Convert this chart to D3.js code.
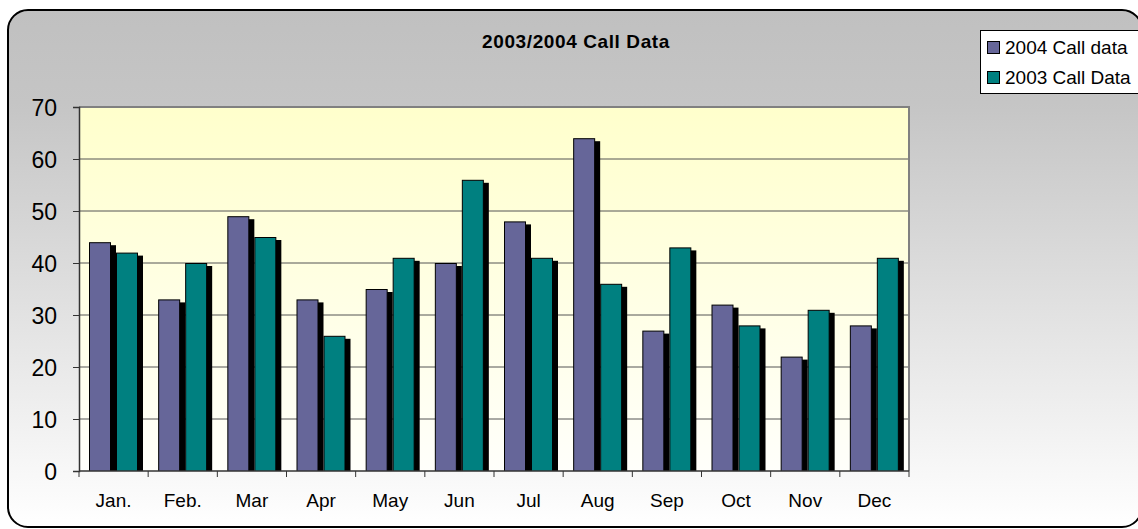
<!DOCTYPE html>
<html>
<head>
<meta charset="utf-8">
<script src="https://cdn.jsdelivr.net/npm/d3@7"></script>
<style>
  body { margin: 0; background: #fff; }
  svg text { font-family: "Liberation Sans", Arial, sans-serif; fill: #000; }
</style>
</head>
<body>
<div id="chartDiv"></div>
<script>
var months = ["Jan.", "Feb.", "Mar", "Apr", "May", "Jun", "Jul", "Aug", "Sep", "Oct", "Nov", "Dec"];
var seriesNames = ["2004 Call data", "2003 Call Data"];
var calls2004 = [44, 33, 49, 33, 35, 40, 48, 64, 27, 32, 22, 28];
var calls2003 = [42, 40, 45, 26, 41, 56, 41, 36, 43, 28, 31, 41];
var yTicks = [0, 10, 20, 30, 40, 50, 60, 70];
var colors = ["#666699", "#008080"];

var swidth = 1138, sheight = 529;
var margin = {top: 107, right: 229, bottom: 58, left: 79};
var width = swidth - margin.left - margin.right,
    height = sheight - margin.top - margin.bottom;

var svg = d3.select("#chartDiv").append("svg")
    .attr("width", swidth)
    .attr("height", sheight);

var defs = svg.append("defs");
var bg = defs.append("linearGradient").attr("id", "bgGrad")
    .attr("x1", 0).attr("y1", 0).attr("x2", 0).attr("y2", 1);
bg.append("stop").attr("offset", "0").attr("stop-color", "#c0c0c0");
bg.append("stop").attr("offset", "0.18").attr("stop-color", "#c5c5c5");
bg.append("stop").attr("offset", "1").attr("stop-color", "#ffffff");
var pg = defs.append("linearGradient").attr("id", "plotGrad")
    .attr("x1", 0).attr("y1", 0).attr("x2", 0).attr("y2", 1);
pg.append("stop").attr("offset", "0").attr("stop-color", "#ffffcc");
pg.append("stop").attr("offset", "1").attr("stop-color", "#fffffb");
defs.append("clipPath").attr("id", "plotClip")
    .append("rect").attr("x", 0).attr("y", -10).attr("width", width + 10).attr("height", height + 10);

// chart area
svg.append("rect")
    .attr("x", 8).attr("y", 10)
    .attr("width", 1134).attr("height", 517)
    .attr("rx", 20).attr("ry", 20)
    .attr("fill", "url(#bgGrad)")
    .attr("stroke", "#000")
    .attr("stroke-width", 2);

svg.append("text")
    .attr("x", 576).attr("y", 48)
    .attr("text-anchor", "middle")
    .style("font-size", "19px")
    .style("font-weight", "bold")
    .style("letter-spacing", "0.6px")
    .text("2003/2004 Call Data");

var g = svg.append("g")
    .attr("transform", "translate(" + margin.left + "," + margin.top + ")");

var x0 = d3.scaleBand().domain(months).range([0, width]).padding(0);
var x1 = d3.scaleBand().domain(seriesNames).range([10, 64]).padding(0);
var y = d3.scaleLinear().domain([0, 70]).range([height, 0]);
var barW = 22;

g.append("rect")
    .attr("width", width).attr("height", height)
    .attr("fill", "url(#plotGrad)");

// gridlines
g.append("g").selectAll("line")
    .data(yTicks.slice(1, -1))
    .enter().append("line")
    .attr("x1", 0).attr("x2", width)
    .attr("y1", function(d) { return y(d); })
    .attr("y2", function(d) { return y(d); })
    .attr("stroke", "#555")
    .attr("stroke-width", 1);

// plot area border (top and right)
g.append("path")
    .attr("d", "M0,0H" + width + "V" + height)
    .attr("fill", "none")
    .attr("stroke", "#808080")
    .attr("stroke-width", 2);

var data = months.map(function(m, i) {
    return {month: m, values: [calls2004[i], calls2003[i]]};
});

var bars = g.append("g").attr("clip-path", "url(#plotClip)");
var grp = bars.selectAll(".grp")
    .data(data)
    .enter().append("g")
    .attr("transform", function(d) { return "translate(" + x0(d.month) + ",0)"; });

var cells = grp.selectAll(".bar")
    .data(function(d) {
        return d.values.map(function(v, i) { return {name: seriesNames[i], value: v, idx: i}; });
    })
    .enter();

cells.append("rect")
    .attr("x", function(d) { return x1(d.name) + 5; })
    .attr("y", function(d) { return y(d.value) + 3; })
    .attr("width", barW)
    .attr("height", function(d) { return height - y(d.value); })
    .attr("fill", "#000");

cells.append("rect")
    .attr("x", function(d) { return x1(d.name) + 0.5; })
    .attr("y", function(d) { return y(d.value) + 0.5; })
    .attr("width", barW - 1)
    .attr("height", function(d) { return height - y(d.value); })
    .attr("fill", function(d) { return colors[d.idx]; })
    .attr("stroke", "#000")
    .attr("stroke-width", 1);

// axes
var yAxis = g.append("g")
    .call(d3.axisLeft(y).tickValues(yTicks).tickSize(6).tickPadding(16));
yAxis.select(".domain").attr("stroke", "#333").attr("stroke-width", 1.5);
yAxis.selectAll(".tick line").attr("stroke", "#333");
yAxis.selectAll("text").style("font-size", "23px").attr("dy", "0.36em");

var xAxis = g.append("g")
    .attr("transform", "translate(0," + height + ")");
xAxis.append("line")
    .attr("x1", 0).attr("x2", width)
    .attr("stroke", "#333").attr("stroke-width", 1.5);
xAxis.selectAll(".xt")
    .data(d3.range(months.length + 1))
    .enter().append("line")
    .attr("x1", function(i) { return i * x0.step(); })
    .attr("x2", function(i) { return i * x0.step(); })
    .attr("y1", 0).attr("y2", 6)
    .attr("stroke", "#333");
xAxis.selectAll(".xl")
    .data(months)
    .enter().append("text")
    .attr("x", function(d) { return x0(d) + x0.bandwidth() / 2; })
    .attr("y", 36)
    .attr("text-anchor", "middle")
    .style("font-size", "19px")
    .text(function(d) { return d; });

// legend
var legend = svg.append("g").attr("transform", "translate(980,30)");
legend.append("rect")
    .attr("x", 0.5).attr("y", 0.5)
    .attr("width", 180).attr("height", 63)
    .attr("fill", "#fff")
    .attr("stroke", "#000");
var li = legend.selectAll(".li")
    .data(seriesNames)
    .enter().append("g")
    .attr("transform", function(d, i) { return "translate(0," + (i * 30) + ")"; });
li.append("rect")
    .attr("x", 7.5).attr("y", 11.5)
    .attr("width", 12).attr("height", 12)
    .attr("fill", function(d, i) { return colors[i]; })
    .attr("stroke", "#000");
li.append("text")
    .attr("x", 25).attr("y", 24)
    .style("font-size", "19px")
    .text(function(d) { return d; });
</script>
</body>
</html>
